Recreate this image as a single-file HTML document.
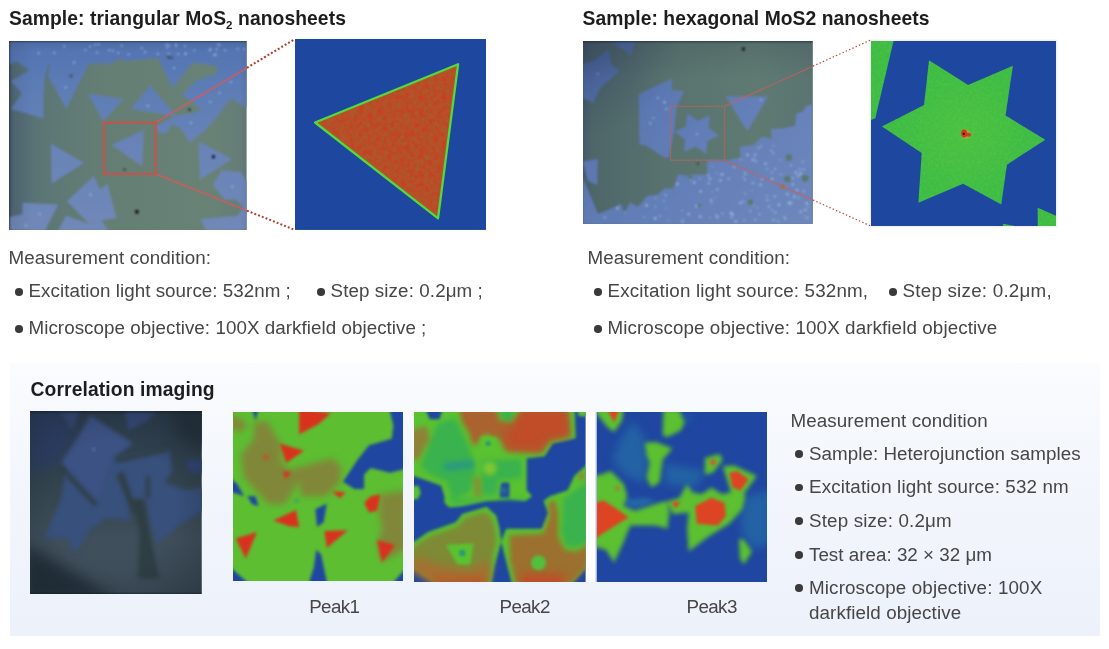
<!DOCTYPE html>
<html lang="en">
<head>
<meta charset="utf-8">
<title>MoS2 nanosheets Raman imaging</title>
<style>
html,body{margin:0;padding:0;}
body{width:1109px;height:649px;position:relative;overflow:hidden;background:#fff;
  font-family:"Liberation Sans",sans-serif;color:#3a3a3a;}
.abs{position:absolute;}
.t{position:absolute;white-space:nowrap;line-height:1;}
h2.t{margin:0;font-weight:bold;color:#1d1d1d;font-size:19.3px;}
h2.t sub{font-size:11.5px;vertical-align:baseline;position:relative;top:4.5px;}
.p{font-size:18.8px;color:#464646;}
.bul{position:absolute;width:7.5px;height:7.5px;border-radius:50%;background:#3a3a3a;}
.sc{font-style:normal;margin-left:5px;}
.pk{letter-spacing:-0.6px;}
svg{position:absolute;display:block;overflow:hidden;}
#panel{position:absolute;left:9.5px;top:362.5px;width:1090.5px;height:273.8px;
  background:linear-gradient(180deg,#fafcfe 0%,#f3f6fc 40%,#edf1fa 100%);}
</style>
</head>
<body>

<!-- ===== headings ===== -->
<h2 class="t" id="h1" style="left:9px;top:8.9px;letter-spacing:0.08px;">Sample: triangular MoS<sub>2</sub> nanosheets</h2>
<h2 class="t" id="h2" style="left:582.5px;top:8.9px;letter-spacing:0.06px;">Sample: hexagonal MoS2 nanosheets</h2>

<!--IMG1-->
<svg id="img1" style="left:9.2px;top:41px;" width="237.6" height="189.4" viewBox="9.2 41 237.6 189.4" preserveAspectRatio="none">
<defs><filter id="b1" x="-5%" y="-5%" width="110%" height="110%"><feGaussianBlur stdDeviation="1.1"/></filter><filter id="b1s" x="-50%" y="-50%" width="200%" height="200%"><feGaussianBlur stdDeviation="0.9"/></filter><linearGradient id="g1" x1="0" x2="1" y1="0" y2="0"><stop offset="0" stop-color="#485c6c"/><stop offset="0.02" stop-color="#526a74"/><stop offset="0.14" stop-color="#5c7676"/><stop offset="0.4" stop-color="#657e74"/><stop offset="0.85" stop-color="#698276"/><stop offset="1" stop-color="#647c78"/></linearGradient><linearGradient id="f1" gradientUnits="userSpaceOnUse" x1="0" x2="0" y1="41" y2="230"><stop offset="0" stop-color="#5273b2"/><stop offset="0.3" stop-color="#5f7eb6"/><stop offset="0.6" stop-color="#6a84b8"/><stop offset="1" stop-color="#7088b8"/></linearGradient><linearGradient id="e1" x1="0" x2="1" y1="0" y2="0"><stop offset="0" stop-color="#1c2638" stop-opacity="0.5"/><stop offset="0.012" stop-color="#243048" stop-opacity="0.12"/><stop offset="0.1" stop-color="#243048" stop-opacity="0"/><stop offset="0.97" stop-color="#243048" stop-opacity="0"/><stop offset="1" stop-color="#243048" stop-opacity="0.08"/></linearGradient><linearGradient id="t1" x1="0" x2="0" y1="0" y2="1"><stop offset="0" stop-color="#182030" stop-opacity="0.55"/><stop offset="0.012" stop-color="#182030" stop-opacity="0.08"/><stop offset="0.06" stop-color="#182030" stop-opacity="0"/></linearGradient></defs>
<rect x="9.2" y="41" width="237.6" height="189.4" fill="url(#g1)"/>
<g filter="url(#b1)" fill="url(#f1)"><polygon points="9,41 247,41 247,107.4 231.3,98.2 208.2,127.4 197,137 189.7,143 181,128 172,124 167,133 160,133 155,127 176,116 193,113 202,109 182,95 196,81 217.4,73.5 217.4,65.8 193,62.7 186.6,70.4 172.8,88 158.1,58.1 125,61.2 119,58.1 113,63.5 89,63.5 66.6,109 46,72 43.5,95 43.5,118.2 11.2,109 22,93.5 11.2,81.2 30,70 17,62 9,64" fill="url(#f1)" /><polygon points="88.2,93.5 123.6,99 103.6,121.3" fill="url(#f1)" /><polygon points="150.4,85.1 131.2,109.3 176.3,115.9" fill="url(#f1)" /><polygon points="111.7,144.9 144,130.3 142.4,165.9" fill="url(#f1)" /><polygon points="51.1,143.7 84.2,163.1 51.9,183.4" fill="url(#f1)" /><polygon points="198.6,141.3 231.7,159.1 200.2,180.1" fill="url(#f1)" /><polygon points="213,185 222,170.4 241.4,172 247,181.7 247,210.9 236.6,199.5 225,199.5" fill="url(#f1)" /><polygon points="201,219 238,215.7 247,201 247,230.5 206,230.5" fill="url(#f1)" /><polygon points="67.3,201.2 93.9,176.1 100.4,189.8 107.7,183.4 116.6,218.1 102,220.6 89,223.8" fill="url(#f1)" /><polygon points="22.8,202.8 58.4,204.4 48.7,223.8 45.4,230.5 9,230.5 9,217.3 22.8,214.1" fill="url(#f1)" /><polygon points="58.4,230.5 66.4,215.7 89,223.8 102,220.6 108.5,230.5" fill="url(#f1)" /><polygon points="51,63 48,66 44,82 47,80" fill="#5a7278" /></g>
<g filter="url(#b1s)" opacity="0.6"><circle cx="74.3" cy="62.7" r="1.1" fill="#b8d4ff"/><circle cx="65.9" cy="87.4" r="1.1" fill="#b8d4ff"/><circle cx="174.3" cy="68.1" r="1.1" fill="#b8d4ff"/><circle cx="148.1" cy="105.9" r="1.1" fill="#b8d4ff"/><circle cx="191.3" cy="122.8" r="1.1" fill="#b8d4ff"/><circle cx="210.5" cy="102.0" r="1.1" fill="#b8d4ff"/><circle cx="219.8" cy="92.8" r="1.1" fill="#b8d4ff"/><circle cx="231.3" cy="82.0" r="1.1" fill="#b8d4ff"/><circle cx="90.7" cy="194.7" r="1.1" fill="#b8d4ff"/><circle cx="39.8" cy="214.1" r="1.1" fill="#b8d4ff"/><circle cx="26.0" cy="225.4" r="1.1" fill="#b8d4ff"/><circle cx="232.5" cy="186.6" r="1.1" fill="#b8d4ff"/><circle cx="85.7" cy="50.0" r="1.1" fill="#b8d4ff"/><circle cx="113.3" cy="50.6" r="1.1" fill="#b8d4ff"/><circle cx="166.8" cy="44.7" r="1.1" fill="#b8d4ff"/><circle cx="38.8" cy="53.2" r="1.1" fill="#b8d4ff"/><circle cx="90.2" cy="46.6" r="1.1" fill="#b8d4ff"/><circle cx="244.1" cy="49.2" r="1.1" fill="#b8d4ff"/><circle cx="210.8" cy="49.2" r="1.1" fill="#b8d4ff"/><circle cx="169.6" cy="45.7" r="1.1" fill="#b8d4ff"/><circle cx="168.7" cy="53.5" r="1.1" fill="#b8d4ff"/><circle cx="145.3" cy="52.2" r="1.1" fill="#b8d4ff"/><circle cx="176.3" cy="44.7" r="1.1" fill="#b8d4ff"/><circle cx="194.5" cy="50.5" r="1.1" fill="#b8d4ff"/><circle cx="99.0" cy="44.3" r="1.1" fill="#b8d4ff"/><circle cx="216.9" cy="49.2" r="1.1" fill="#b8d4ff"/><circle cx="186.2" cy="53.7" r="1.1" fill="#b8d4ff"/><circle cx="185.3" cy="54.1" r="1.1" fill="#b8d4ff"/><circle cx="118.5" cy="52.8" r="1.1" fill="#b8d4ff"/><circle cx="128.9" cy="54.3" r="1.1" fill="#b8d4ff"/><circle cx="219.7" cy="45.1" r="1.1" fill="#b8d4ff"/><circle cx="64.4" cy="46.4" r="1.1" fill="#b8d4ff"/><circle cx="237.8" cy="48.8" r="1.1" fill="#b8d4ff"/><circle cx="167.0" cy="47.3" r="1.1" fill="#b8d4ff"/><circle cx="142.0" cy="48.2" r="1.1" fill="#b8d4ff"/><circle cx="109.3" cy="50.4" r="1.1" fill="#b8d4ff"/><circle cx="158.1" cy="53.9" r="1.1" fill="#b8d4ff"/><circle cx="178.5" cy="54.2" r="1.1" fill="#b8d4ff"/><circle cx="215.0" cy="54.9" r="1.1" fill="#b8d4ff"/><circle cx="176.3" cy="45.8" r="1.1" fill="#b8d4ff"/><circle cx="215.9" cy="54.6" r="1.1" fill="#b8d4ff"/><circle cx="225.1" cy="50.3" r="1.1" fill="#b8d4ff"/><circle cx="185.2" cy="46.3" r="1.1" fill="#b8d4ff"/><circle cx="209.8" cy="50.3" r="1.1" fill="#b8d4ff"/><circle cx="95.6" cy="44.7" r="1.1" fill="#b8d4ff"/><circle cx="214.5" cy="54.9" r="1.1" fill="#b8d4ff"/><circle cx="54.5" cy="52.8" r="1.1" fill="#b8d4ff"/><circle cx="121.8" cy="45.7" r="1.1" fill="#b8d4ff"/><circle cx="97.4" cy="52.5" r="1.1" fill="#b8d4ff"/><circle cx="218.4" cy="44.5" r="1.1" fill="#b8d4ff"/></g>
<g filter="url(#b1s)"><circle cx="213.6" cy="156.7" r="1.7" fill="#141830"/><circle cx="137.1" cy="211.7" r="2" fill="#10141c"/><circle cx="189.7" cy="109.7" r="1.4" fill="#283040"/><circle cx="71.3" cy="75.8" r="1.6" fill="#405060"/><circle cx="124.7" cy="169.6" r="1" fill="#202830"/><ellipse cx="170" cy="57.5" rx="3.5" ry="1" fill="#384858" transform="rotate(12 170 57.5)"/></g>
<rect x="9.2" y="41" width="237.6" height="189.4" fill="url(#e1)"/>
<rect x="9.2" y="41" width="237.6" height="189.4" fill="url(#t1)"/>
</svg>
<!--/IMG1-->
<!--HEAT1-->
<svg id="heat1" style="left:294.563px;top:38.7379px;" width="191.586" height="190.939" viewBox="45 27 592 590" preserveAspectRatio="none">
<defs><filter id="bh1" x="-10%" y="-10%" width="120%" height="120%" color-interpolation-filters="sRGB"><feGaussianBlur stdDeviation="2.2"/></filter><filter id="nz1" x="0" y="0" width="100%" height="100%" color-interpolation-filters="sRGB"><feTurbulence type="fractalNoise" baseFrequency="0.07" numOctaves="2" seed="4"/><feColorMatrix type="matrix" values="0 0 0 0 0.90  0 0 0 0 0.14  0 0 0 0 0.08  2.6 0 0 0 -1.05"/><feComposite in2="SourceGraphic" operator="in"/></filter><filter id="nz1g" x="0" y="0" width="100%" height="100%" color-interpolation-filters="sRGB"><feTurbulence type="fractalNoise" baseFrequency="0.05" numOctaves="2" seed="21"/><feColorMatrix type="matrix" values="0 0 0 0 0.50  0 0 0 0 0.50  0 0 0 0 0.18  2.4 0 0 0 -1.15"/><feComposite in2="SourceGraphic" operator="in"/></filter></defs>
<rect x="45" y="27" width="592" height="590" fill="#1e479f"/>
<g filter="url(#bh1)"><polygon points="107,285 549,105 487,581" fill="#b4522a" stroke="#50dc3a" stroke-width="7" stroke-linejoin="round"/></g>
<polygon points="122,285 541,115 482,566" fill="#fff" filter="url(#nz1g)" opacity="0.32"/>
<polygon points="122,285 541,115 482,566" fill="#fff" filter="url(#nz1)" opacity="0.45"/>
</svg>
<!--/HEAT1-->
<!--IMG2-->
<svg id="img2" style="left:583.1px;top:41.2px;" width="229.8" height="183.3" viewBox="583.1 41.2 229.8 183.3" preserveAspectRatio="none">
<defs><filter id="b2" x="-5%" y="-5%" width="110%" height="110%"><feGaussianBlur stdDeviation="1.1"/></filter><filter id="b2s" x="-50%" y="-50%" width="200%" height="200%"><feGaussianBlur stdDeviation="0.8"/></filter><linearGradient id="g2" x1="0" x2="1" y1="0" y2="0"><stop offset="0" stop-color="#46586a"/><stop offset="0.04" stop-color="#4e6669"/><stop offset="0.35" stop-color="#58726f"/><stop offset="0.75" stop-color="#5f7a72"/><stop offset="1" stop-color="#5a7472"/></linearGradient><linearGradient id="f2" gradientUnits="userSpaceOnUse" x1="583" x2="813" y1="41" y2="225"><stop offset="0" stop-color="#4c68a6"/><stop offset="0.25" stop-color="#5a76b0"/><stop offset="0.55" stop-color="#647fb8"/><stop offset="1" stop-color="#6e88bc"/></linearGradient><radialGradient id="c2" gradientUnits="userSpaceOnUse" cx="583" cy="41" r="95"><stop offset="0" stop-color="#283858" stop-opacity="0.42"/><stop offset="1" stop-color="#283858" stop-opacity="0"/></radialGradient><linearGradient id="t2" x1="0" x2="0" y1="0" y2="1"><stop offset="0" stop-color="#182030" stop-opacity="0.6"/><stop offset="0.015" stop-color="#182030" stop-opacity="0.12"/><stop offset="0.2" stop-color="#182030" stop-opacity="0"/></linearGradient></defs>
<rect x="583.1" y="41.2" width="229.8" height="183.3" fill="url(#g2)"/>
<g filter="url(#b2)"><polygon points="583,64.3 593.4,61.2 608.8,49.6 611.1,64.3 619.6,71.2 601.1,87.4 593.4,102.8 583,98.2" fill="url(#f2)" /><polygon points="610.4,41 635,41 631.2,55" fill="url(#f2)" /><polygon points="638.9,94.3 672,78.9 672,90.5 684.3,91.2 676.6,107.4 674.7,129 669,157.7 664.3,157.7 645.8,145.4 639.6,144.6" fill="url(#f2)" /><polygon points="719.1,135.8 707.5,141.3 706.3,154.1 695.8,146.8 684.1,152.2 685.2,139.4 674.7,132 686.3,126.5 687.5,113.7 698,121 709.7,115.6 708.6,128.4" fill="url(#f2)" /><polygon points="725.8,96.6 768.2,96.6 747.4,131.3" fill="url(#f2)" /><polygon points="583,161.6 598,159.3 597.3,185.5 588,181" fill="url(#f2)" /><polygon points="583,178 598,214 609,210 621,204 624,213 630.4,202.4 638,207 647.3,196.3 658,194.7 664.3,188.6 673.5,188.6 678.2,174.7 689,176.2 695,174.7 707.3,174.7 707.3,160.8 725.8,160.8 741.2,157.7 739.7,147 753.5,145.4 762,137 772,139 771,129 781.3,129 795.2,125.9 796.7,113.6 802.9,112 805.9,106.6 813,104.3 813,225 583,225" fill="url(#f2)" /></g>
<g filter="url(#b2s)" opacity="0.55"><circle cx="712.5" cy="166.8" r="0.7" fill="#c0d8ff"/><circle cx="773.6" cy="145.8" r="0.9" fill="#c0d8ff"/><circle cx="731.8" cy="217.5" r="1.1" fill="#c0d8ff"/><circle cx="683.3" cy="219.9" r="0.7" fill="#c0d8ff"/><circle cx="780.3" cy="160.2" r="0.8" fill="#c0d8ff"/><circle cx="771.4" cy="150.7" r="1.1" fill="#c0d8ff"/><circle cx="734.2" cy="167.4" r="1.1" fill="#c0d8ff"/><circle cx="723.0" cy="174.4" r="0.9" fill="#c0d8ff"/><circle cx="766.8" cy="195.8" r="0.9" fill="#c0d8ff"/><circle cx="720.6" cy="180.7" r="1.3" fill="#c0d8ff"/><circle cx="753.2" cy="160.1" r="1.4" fill="#c0d8ff"/><circle cx="759.0" cy="148.2" r="1.0" fill="#c0d8ff"/><circle cx="760.6" cy="184.9" r="1.3" fill="#c0d8ff"/><circle cx="665.9" cy="195.5" r="1.1" fill="#c0d8ff"/><circle cx="721.8" cy="174.7" r="1.3" fill="#c0d8ff"/><circle cx="798.4" cy="176.2" r="1.2" fill="#c0d8ff"/><circle cx="735.9" cy="221.4" r="1.3" fill="#c0d8ff"/><circle cx="761.3" cy="146.3" r="0.9" fill="#c0d8ff"/><circle cx="682.1" cy="210.8" r="0.8" fill="#c0d8ff"/><circle cx="694.3" cy="182.8" r="1.3" fill="#c0d8ff"/><circle cx="772.0" cy="210.2" r="0.9" fill="#c0d8ff"/><circle cx="785.7" cy="218.3" r="0.8" fill="#c0d8ff"/><circle cx="677.5" cy="184.3" r="1.4" fill="#c0d8ff"/><circle cx="745.0" cy="179.8" r="1.1" fill="#c0d8ff"/><circle cx="788.9" cy="202.9" r="1.3" fill="#c0d8ff"/><circle cx="767.6" cy="169.1" r="1.0" fill="#c0d8ff"/><circle cx="778.3" cy="221.4" r="1.0" fill="#c0d8ff"/><circle cx="655.6" cy="207.1" r="0.8" fill="#c0d8ff"/><circle cx="604.9" cy="217.7" r="1.1" fill="#c0d8ff"/><circle cx="805.5" cy="210.1" r="1.2" fill="#c0d8ff"/><circle cx="711.8" cy="202.8" r="0.9" fill="#c0d8ff"/><circle cx="646.8" cy="205.6" r="1.4" fill="#c0d8ff"/><circle cx="779.1" cy="205.1" r="1.3" fill="#c0d8ff"/><circle cx="755.4" cy="154.7" r="1.1" fill="#c0d8ff"/><circle cx="800.9" cy="173.9" r="1.4" fill="#c0d8ff"/><circle cx="807.5" cy="218.1" r="1.0" fill="#c0d8ff"/><circle cx="731.1" cy="213.3" r="1.3" fill="#c0d8ff"/><circle cx="700.7" cy="191.8" r="1.3" fill="#c0d8ff"/><circle cx="791.1" cy="203.1" r="1.2" fill="#c0d8ff"/><circle cx="765.7" cy="163.9" r="1.3" fill="#c0d8ff"/><circle cx="804.0" cy="169.4" r="1.0" fill="#c0d8ff"/><circle cx="798.8" cy="198.1" r="0.8" fill="#c0d8ff"/><circle cx="790.0" cy="205.2" r="0.8" fill="#c0d8ff"/><circle cx="773.6" cy="220.3" r="1.2" fill="#c0d8ff"/><circle cx="803.9" cy="191.5" r="1.1" fill="#c0d8ff"/><circle cx="796.1" cy="172.7" r="1.3" fill="#c0d8ff"/><circle cx="773.5" cy="153.4" r="0.9" fill="#c0d8ff"/><circle cx="791.1" cy="165.8" r="1.0" fill="#c0d8ff"/><circle cx="722.5" cy="213.7" r="1.0" fill="#c0d8ff"/><circle cx="792.7" cy="178.6" r="1.1" fill="#c0d8ff"/><circle cx="752.3" cy="183.4" r="0.9" fill="#c0d8ff"/><circle cx="708.9" cy="183.3" r="1.2" fill="#c0d8ff"/><circle cx="762.2" cy="179.2" r="1.1" fill="#c0d8ff"/><circle cx="759.6" cy="214.4" r="1.0" fill="#c0d8ff"/><circle cx="728.6" cy="179.0" r="1.1" fill="#c0d8ff"/><circle cx="745.5" cy="174.4" r="1.1" fill="#c0d8ff"/><circle cx="700.4" cy="216.9" r="1.2" fill="#c0d8ff"/><circle cx="784.1" cy="217.0" r="0.9" fill="#c0d8ff"/><circle cx="717.5" cy="217.1" r="1.3" fill="#c0d8ff"/><circle cx="740.6" cy="203.2" r="1.3" fill="#c0d8ff"/><circle cx="785.4" cy="219.2" r="0.9" fill="#c0d8ff"/><circle cx="800.0" cy="169.6" r="1.0" fill="#c0d8ff"/><circle cx="807.9" cy="207.4" r="0.8" fill="#c0d8ff"/><circle cx="690.6" cy="179.9" r="0.9" fill="#c0d8ff"/><circle cx="716.4" cy="173.3" r="0.7" fill="#c0d8ff"/><circle cx="806.9" cy="203.6" r="1.4" fill="#c0d8ff"/><circle cx="688.7" cy="214.3" r="1.3" fill="#c0d8ff"/><circle cx="793.0" cy="184.6" r="1.2" fill="#c0d8ff"/><circle cx="744.5" cy="172.0" r="0.8" fill="#c0d8ff"/><circle cx="797.1" cy="190.2" r="1.3" fill="#c0d8ff"/><circle cx="617.6" cy="209.5" r="0.7" fill="#c0d8ff"/><circle cx="781.2" cy="174.5" r="0.9" fill="#c0d8ff"/><circle cx="716.1" cy="215.6" r="0.9" fill="#c0d8ff"/><circle cx="664.1" cy="201.1" r="0.9" fill="#c0d8ff"/><circle cx="753.9" cy="182.9" r="0.8" fill="#c0d8ff"/><circle cx="699.7" cy="216.3" r="0.8" fill="#c0d8ff"/><circle cx="772.0" cy="172.6" r="1.0" fill="#c0d8ff"/><circle cx="775.3" cy="169.2" r="1.1" fill="#c0d8ff"/><circle cx="744.4" cy="220.5" r="0.9" fill="#c0d8ff"/><circle cx="774.8" cy="196.5" r="1.1" fill="#c0d8ff"/><circle cx="617.7" cy="208.2" r="1.3" fill="#c0d8ff"/><circle cx="740.8" cy="159.5" r="0.9" fill="#c0d8ff"/><circle cx="655.3" cy="218.7" r="1.4" fill="#c0d8ff"/><circle cx="802.8" cy="161.9" r="0.9" fill="#c0d8ff"/><circle cx="699.7" cy="178.7" r="0.8" fill="#c0d8ff"/><circle cx="711.1" cy="200.3" r="1.2" fill="#c0d8ff"/><circle cx="750.4" cy="211.5" r="1.0" fill="#c0d8ff"/><circle cx="668.5" cy="220.7" r="0.8" fill="#c0d8ff"/><circle cx="752.1" cy="191.0" r="0.7" fill="#c0d8ff"/><circle cx="775.4" cy="212.6" r="1.1" fill="#c0d8ff"/><circle cx="754.1" cy="205.7" r="0.8" fill="#c0d8ff"/><circle cx="710.0" cy="178.9" r="1.3" fill="#c0d8ff"/><circle cx="769.0" cy="206.9" r="1.1" fill="#c0d8ff"/><circle cx="787.5" cy="194.4" r="1.2" fill="#c0d8ff"/><circle cx="717.3" cy="189.6" r="1.1" fill="#c0d8ff"/><circle cx="742.9" cy="177.6" r="0.7" fill="#c0d8ff"/><circle cx="767.5" cy="200.1" r="1.1" fill="#c0d8ff"/><circle cx="712.4" cy="192.4" r="0.7" fill="#c0d8ff"/><circle cx="754.7" cy="156.9" r="0.8" fill="#c0d8ff"/><circle cx="655.8" cy="198.5" r="0.8" fill="#c0d8ff"/><circle cx="755.4" cy="219.9" r="1.0" fill="#c0d8ff"/><circle cx="743.6" cy="201.7" r="1.1" fill="#c0d8ff"/><circle cx="756.1" cy="161.5" r="1.1" fill="#c0d8ff"/><circle cx="745.4" cy="193.8" r="0.9" fill="#c0d8ff"/><circle cx="708.5" cy="175.4" r="1.0" fill="#c0d8ff"/><circle cx="624.9" cy="212.7" r="0.8" fill="#c0d8ff"/><circle cx="805.4" cy="216.5" r="0.7" fill="#c0d8ff"/><circle cx="696.4" cy="206.3" r="1.4" fill="#c0d8ff"/><circle cx="644.1" cy="217.3" r="0.8" fill="#c0d8ff"/><circle cx="710.1" cy="217.9" r="0.8" fill="#c0d8ff"/><circle cx="772.2" cy="179.3" r="1.3" fill="#c0d8ff"/><circle cx="747.7" cy="155.1" r="1.3" fill="#c0d8ff"/><circle cx="666.4" cy="208.1" r="0.7" fill="#c0d8ff"/><circle cx="757.7" cy="208.0" r="0.8" fill="#c0d8ff"/><circle cx="794.5" cy="197.0" r="1.3" fill="#c0d8ff"/><circle cx="682.5" cy="221.9" r="1.1" fill="#c0d8ff"/><circle cx="660.0" cy="216.4" r="0.9" fill="#c0d8ff"/><circle cx="800.8" cy="211.9" r="1.3" fill="#c0d8ff"/><circle cx="732.5" cy="214.5" r="1.4" fill="#c0d8ff"/><circle cx="715.3" cy="197.6" r="0.7" fill="#c0d8ff"/><circle cx="658" cy="98" r="1.1" fill="#c0d8ff"/><circle cx="664.3" cy="102.8" r="1.1" fill="#c0d8ff"/><circle cx="666.6" cy="109" r="1.1" fill="#c0d8ff"/><circle cx="653.5" cy="118.2" r="1.1" fill="#c0d8ff"/><circle cx="650.4" cy="123.6" r="1.1" fill="#c0d8ff"/><circle cx="664.8" cy="102.4" r="1.1" fill="#c0d8ff"/><circle cx="697" cy="134.5" r="1.1" fill="#c0d8ff"/><circle cx="598" cy="74" r="1.1" fill="#c0d8ff"/><circle cx="761" cy="100" r="1.1" fill="#c0d8ff"/></g>
<g filter="url(#b2s)"><circle cx="743.5" cy="49.2" r="1.7" fill="#10141c"/><circle cx="698" cy="164" r="1" fill="#2a3438"/><circle cx="789" cy="157.7" r="3.2" fill="#58786c"/><circle cx="787.4" cy="179.3" r="3.2" fill="#58786c"/><circle cx="805.2" cy="178.5" r="3.4" fill="#58786c"/><circle cx="782.8" cy="187" r="2.2" fill="#9a7040"/><circle cx="750.5" cy="202.4" r="2.6" fill="#58786c"/><circle cx="699.6" cy="205.5" r="2" fill="#5c7c78"/><circle cx="690.5" cy="177.5" r="2" fill="#58786c"/></g>
<rect x="583.1" y="41.2" width="229.8" height="183.3" fill="url(#c2)"/>
<rect x="583.1" y="41.2" width="229.8" height="183.3" fill="url(#t2)"/>
</svg>
<!--/IMG2-->
<!--HEAT2-->
<svg id="heat2" style="left:870.55px;top:40.5784px;box-shadow:0 0 0 1.5px #f1f1f1;" width="185.615" height="185.615" viewBox="62 47 560 560" preserveAspectRatio="none">
<defs><filter id="bh2" x="-10%" y="-10%" width="120%" height="120%" color-interpolation-filters="sRGB"><feGaussianBlur stdDeviation="1.8"/></filter><radialGradient id="rg2" gradientUnits="userSpaceOnUse" cx="345" cy="327" r="190"><stop offset="0" stop-color="#7ad038" stop-opacity="0.22"/><stop offset="1" stop-color="#8ad838" stop-opacity="0"/></radialGradient><filter id="nz2" x="0" y="0" width="100%" height="100%" color-interpolation-filters="sRGB"><feTurbulence type="fractalNoise" baseFrequency="0.12" numOctaves="2" seed="9"/><feColorMatrix type="matrix" values="0 0 0 0 0.40  0 0 0 0 0.80  0 0 0 0 0.24  1.6 0 0 0 -0.62"/><feComposite in2="SourceGraphic" operator="in"/></filter></defs>
<rect x="62" y="47" width="560" height="560" fill="#1e479f"/>
<g filter="url(#bh2)"><polygon points="237,105 355,180 490,122 468,272 588,345 472,420 455,540 340,478 205,535 215,385 95,305 222,240" fill="#3dbc46" /><polygon points="62,47 130,47 75,280 62,285" fill="#3dbc46" /><polygon points="565,550 622,575 622,607 565,607" fill="#3dbc46" /><polygon points="460,598 505,607 460,607" fill="#3dbc46" /></g>
<g filter="url(#nz2)" opacity="0.5"><polygon points="237,105 355,180 490,122 468,272 588,345 472,420 455,540 340,478 205,535 215,385 95,305 222,240" fill="#fff" /><polygon points="62,47 130,47 75,280 62,285" fill="#fff" /><polygon points="565,550 622,575 622,607 565,607" fill="#fff" /><polygon points="460,598 505,607 460,607" fill="#fff" /></g>
<polygon points="237,105 355,180 490,122 468,272 588,345 472,420 455,540 340,478 205,535 215,385 95,305 222,240" fill="url(#rg2)" />
<g filter="url(#bh2)"><ellipse cx="348" cy="328" rx="15" ry="15" fill="#86b83a"/><ellipse cx="343" cy="326" rx="9" ry="12" fill="#d83220"/><ellipse cx="356" cy="330" rx="8" ry="6" fill="#d83a22"/><circle cx="342" cy="327" r="3.5" fill="#301010"/></g>
</svg>
<!--/HEAT2-->
<!--LINES-->
<svg id="lines" style="left:0px;top:0px;pointer-events:none;" width="1109" height="360" viewBox="0 0 1109 360" preserveAspectRatio="none">
<line x1="156" y1="122.3" x2="247" y2="67.7657" stroke="#d8585a" stroke-width="1.5" opacity="0.9"/>
<line x1="247" y1="67.7657" x2="294.5" y2="39.3" stroke="#b23c28" stroke-width="2.1" stroke-dasharray="1.9 2.1"/>
<line x1="156" y1="174" x2="247" y2="210.663" stroke="#d8585a" stroke-width="1.5" opacity="0.9"/>
<line x1="247" y1="210.663" x2="294.5" y2="229.8" stroke="#b23c28" stroke-width="2.1" stroke-dasharray="1.9 2.1"/>
<rect x="104" y="122.6" width="51.6" height="51.2" fill="none" stroke="#e2463f" stroke-width="2.3" stroke-dasharray="2.3 0.9"/>
<line x1="724.6" y1="106.2" x2="813" y2="66.1561" stroke="#cf5c58" stroke-width="1.1" opacity="0.85"/>
<line x1="813" y1="66.1561" x2="870.3" y2="40.2" stroke="#b8442e" stroke-width="1.2" stroke-dasharray="1.4 2.2"/>
<line x1="724.6" y1="160.3" x2="813" y2="200.041" stroke="#cf5c58" stroke-width="1.1" opacity="0.85"/>
<line x1="813" y1="200.041" x2="870.3" y2="225.8" stroke="#b8442e" stroke-width="1.2" stroke-dasharray="1.4 2.2"/>
<rect x="670.5" y="106.4" width="54" height="53.8" fill="none" stroke="#c8605a" stroke-width="1.4" stroke-dasharray="2 0.8" opacity="0.75"/>
</svg>
<!--/LINES-->

<!-- ===== left conditions ===== -->
<div class="t p" id="l1" style="left:8.5px;top:248.5px;letter-spacing:0.1px;">Measurement condition:</div>
<span class="bul" style="left:15px;top:288.2px;"></span>
<div class="t p" id="l2" style="left:28.5px;top:281.8px;letter-spacing:0.05px;">Excitation light source: 532nm<i class="sc">;</i></div>
<span class="bul" style="left:317px;top:288.2px;"></span>
<div class="t p" id="l3" style="left:330.5px;top:281.8px;letter-spacing:0.1px;">Step size: 0.2μm<i class="sc">;</i></div>
<span class="bul" style="left:15px;top:325.2px;"></span>
<div class="t p" id="l4" style="left:28.5px;top:319.4px;letter-spacing:0.05px;">Microscope objective: 100X darkfield objective<i class="sc">;</i></div>

<!-- ===== right conditions ===== -->
<div class="t p" id="r1" style="left:587.5px;top:248.5px;letter-spacing:0.1px;">Measurement condition:</div>
<span class="bul" style="left:594px;top:288.2px;"></span>
<div class="t p" id="r2" style="left:607.5px;top:281.8px;letter-spacing:0.16px;">Excitation light source: 532nm,</div>
<span class="bul" style="left:889px;top:288.2px;"></span>
<div class="t p" id="r3" style="left:902.5px;top:281.8px;letter-spacing:0.23px;">Step size: 0.2μm,</div>
<span class="bul" style="left:594px;top:325.2px;"></span>
<div class="t p" id="r4" style="left:607.5px;top:319.4px;letter-spacing:0.1px;">Microscope objective: 100X darkfield objective</div>

<!-- ===== bottom panel ===== -->
<div id="panel"></div>
<h2 class="t" id="h3" style="left:30.5px;top:379.7px;letter-spacing:0.11px;">Correlation imaging</h2>
<!--DARK-->
<svg id="dark" style="left:30.2px;top:411.3px;" width="171.7" height="183.2" viewBox="30.2 411.3 171.7 183.2" preserveAspectRatio="none">
<defs><filter id="db" x="-20%" y="-20%" width="140%" height="140%" color-interpolation-filters="sRGB"><feGaussianBlur stdDeviation="2.2"/></filter><filter id="db2" x="-30%" y="-30%" width="160%" height="160%" color-interpolation-filters="sRGB"><feGaussianBlur stdDeviation="7"/></filter><linearGradient id="dg" x1="0" x2="0" y1="0" y2="1"><stop offset="0" stop-color="#2b3b4b"/><stop offset="0.45" stop-color="#34454f"/><stop offset="0.7" stop-color="#3f4f5b"/><stop offset="1" stop-color="#3c4c58"/></linearGradient><radialGradient id="dvv" cx="48%" cy="52%" r="72%"><stop offset="0.5" stop-color="#18222c" stop-opacity="0"/><stop offset="1" stop-color="#18222c" stop-opacity="0.42"/></radialGradient><linearGradient id="dt" x1="0" x2="0" y1="0" y2="1"><stop offset="0" stop-color="#101820" stop-opacity="0.5"/><stop offset="0.02" stop-color="#101820" stop-opacity="0"/><stop offset="0.985" stop-color="#101820" stop-opacity="0"/><stop offset="1" stop-color="#101820" stop-opacity="0.5"/></linearGradient></defs>
<rect x="30.2" y="411.3" width="171.7" height="183.2" fill="url(#dg)"/>
<g filter="url(#db2)"><polygon points="25,405 62,405 75,430 60,465 25,470" fill="#2c3e64" /><polygon points="25,545 120,600 25,600" fill="#222e38" /><polygon points="170,405 210,405 210,450 180,440" fill="#24323c" /></g>
<g filter="url(#db)"><polygon points="90.6,415.8 133.3,443.7 113.6,458.5 97.2,502.8 61.1,463.4 79.2,435.5" fill="#3c5284" /><polygon points="57.8,408 80.8,408 72.6,430.6" fill="#354876" /><polygon points="125.1,408 159.6,408 146.4,422.4 128.4,430.6" fill="#354876" /><polygon points="113.6,458.5 169.4,448.7 172.7,471.6 164.5,483.1 186,490 205,488 205,509.8 180.9,524.6 156.3,544.3 149.7,524.6 146,500 130,500 130,521.3 107.1,518.1 90.6,529.5 75.9,552.5 66,537.7 44.7,539.4 61.1,500 66,470 97.2,502.8" fill="#38507c" /><polygon points="185.8,460.2 205,458.5 205,475 189.1,471.6" fill="#324474" /></g>
<g filter="url(#db)"><polygon points="131.7,500 143.2,500 149.7,532.8 159.6,578.8 138.2,578.8 139.9,532.8" fill="#2e3e44" /><polygon points="117,475 123.5,471.6 133,500 142,510 132,512" fill="#2e3e44" /><polygon points="146.4,476.6 149.7,476.6 149.7,497 146,500" fill="#2e3e44" /><polygon points="113.6,458.5 169.4,447 168,452 118,463" fill="#2e3e44" /><polygon points="61.1,463.4 66,470 97.2,502.8 95,507 60,470" fill="#2e3e44" /></g>
<circle cx="94" cy="449.5" r="1.3" fill="#7aa0d8" filter="url(#db)"/>
<rect x="30.2" y="411.3" width="171.7" height="183.2" fill="url(#dvv)"/>
<rect x="30.2" y="411.3" width="171.7" height="183.2" fill="url(#dt)"/>
</svg>
<!--/DARK-->
<!--P1-->
<svg id="p1" style="left:233.2px;top:411.8px;" width="170.1" height="169.7" viewBox="233.2 411.8 170.1 169.7" preserveAspectRatio="none">
<defs><clipPath id="c_p1"><rect x="233.2" y="411.8" width="170.1" height="169.7"/></clipPath><filter id="p1b" x="-40%" y="-40%" width="180%" height="180%" color-interpolation-filters="sRGB"><feGaussianBlur stdDeviation="3"/></filter><filter id="p1c" x="-40%" y="-40%" width="180%" height="180%" color-interpolation-filters="sRGB"><feGaussianBlur stdDeviation="1.4"/></filter></defs><g clip-path="url(#c_p1)"><rect x="220" y="400" width="200" height="200" fill="#5dbe32"/><g filter="url(#p1b)" opacity="0.88"><polygon points="254,422.2 267,420.6 281.6,445 281.6,462.8 289.7,469.3 331.9,458 341.6,466 340,482.3 325.4,496 301,496 299.4,480.7 284.8,504.1 268.6,504.1 244.2,477.4 241,454.7 254,438.5" fill="#86803a" /><polygon points="230,414 244.2,420.6 247.5,427.1 239.4,432 230,427" fill="#86803a" /><polygon points="380.6,494 408,490 408,548 390.3,557.7 382.2,561 377.3,544.7 382.2,528.5 379,512.2" fill="#86803a" /></g><g filter="url(#p1c)"><polygon points="388.7,405 410,405 410,467.7 390.3,472.5 370.8,467.7 364.3,474.2 364.3,488.8 354.6,488.8 343.2,481.5 357.8,459.6 369.2,445 391.9,438.5 393.6,425.5" fill="#1f46a0" /><polygon points="252.3,408 258.8,408 255.6,420.6" fill="#1f46a0" /><polygon points="228,476 237.7,484 244.2,496 228,490.4" fill="#1f46a0" /><polygon points="247.5,496 255.6,496 258.8,505.7 252.3,504.1" fill="#1f46a0" /><polygon points="315.6,509 327,503.3 323.8,522 317.3,526.8" fill="#1f46a0" /><polygon points="316.5,549.6 321.3,554.4 328,586 308,586 314,567.4" fill="#1f46a0" /><polygon points="228,565 252,586 228,586" fill="#1f46a0" /><polygon points="408,566 408,586 390,586" fill="#1f46a0" /></g><g filter="url(#p1c)"><polygon points="299.4,408 331,413 318.9,423.9 299.4,434.4" fill="#d8321f" /><polygon points="279.9,443.3 304.3,450.6 286.4,462.8" fill="#d8321f" /><polygon points="283.2,470.9 291.3,472.5 285.6,479" fill="#d8321f" /><polygon points="273.4,520.3 296.2,509.8 299.4,526.8 289.7,526" fill="#d8321f" /><polygon points="236.1,538.2 257.2,531.7 245.9,558.5" fill="#d8321f" /><polygon points="324.6,530.9 348.1,530.1 327,547.9" fill="#d8321f" /><polygon points="364.3,502.5 370.8,496 380.6,494 377.3,510.6 369.2,512.2" fill="#d8321f" /><polygon points="377.3,539.8 395.2,544.7 382.2,562.5" fill="#d8321f" /><polygon points="332,491 346,492 340,498" fill="#d8321f" /></g><g filter="url(#p1c)"><circle cx="297" cy="500.9" r="2" fill="#2aa07a"/><circle cx="266.3" cy="457" r="3.2" fill="#a8642a"/></g></g>
</svg>
<!--/P1-->
<!--P2-->
<svg id="p2" style="left:414.3px;top:411.8px;" width="171.6" height="170.2" viewBox="414.3 411.8 171.6 170.2" preserveAspectRatio="none">
<defs><clipPath id="c_p2"><rect x="414.3" y="411.8" width="171.6" height="170.2"/></clipPath><filter id="p2a" x="-40%" y="-40%" width="180%" height="180%" color-interpolation-filters="sRGB"><feGaussianBlur stdDeviation="1.6"/></filter><filter id="p2b" x="-40%" y="-40%" width="180%" height="180%" color-interpolation-filters="sRGB"><feGaussianBlur stdDeviation="2.4"/></filter><filter id="p2d" x="-40%" y="-40%" width="180%" height="180%" color-interpolation-filters="sRGB"><feGaussianBlur stdDeviation="4"/></filter><filter id="p2e" x="-40%" y="-40%" width="180%" height="180%" color-interpolation-filters="sRGB"><feGaussianBlur stdDeviation="1.2"/></filter></defs><g clip-path="url(#c_p2)"><rect x="400" y="400" width="200" height="200" fill="#1f46a0"/><g filter="url(#p2a)"><polygon points="410,408 425.2,408 430.1,419 439.8,419 443.1,408 575,408 576,438 553,443 545,456 527,458 527,490 532.4,496 525.9,500.9 509.6,499.2 486.9,500.9 462.6,505.7 449.6,507.4 444.7,502.5 444.7,496 441.5,485.5 423.6,479 410,474.5" fill="#5ac230" /><polygon points="590,462 574.6,475.8 568,490 550.2,496 543.7,500.9 548.6,512.2 542.1,528.5 506.4,528.5 501.5,541.4 506.4,560.9 512.9,586 569.5,586 590,563" fill="#5ac230" /><polygon points="410,544.5 428.5,531.7 456.1,522 462.6,513.9 486.9,506.6 496.6,515.5 499.9,528.5 501.5,541.4 495,565.8 491,586 441,586 410,564.5" fill="#5ac230" /><polygon points="410,486 419,485.5 421,493 418,499 410,499" fill="#5ac230" /><polygon points="577.5,408 590,408 590,416.5 579,415.7" fill="#5ac230" /><polygon points="501.5,482.3 509.6,482.3 509.6,497.5 499.9,497.5" fill="#1f46a0" /></g><g filter="url(#p2b)"><polygon points="438,423 455,418 466,440 472,455 476,470 470,492 452,499 448,482 430,474 421,466 430,442" fill="#3ab24e" /><polygon points="500,410 514.5,410 513,420 503,421" fill="#3ab24e" /><polygon points="563,499 590,480 590,540 577.8,547 566,545.5 562,531.7 563.5,512.2" fill="#3ab24e" /><polygon points="449,499 528,498 522,499.5 486,499.5 455,504" fill="#3ab24e" /><polygon points="482,460 522,459 522,478 512,479 498,480 497,494 482,495" fill="#3ab24e" /></g><g filter="url(#p2b)"><polygon points="443.1,462.8 473.9,459.6 473.9,467.7 446.3,470.9" fill="#2a9a80" /><circle cx="490" cy="468" r="7" fill="#7cc830"/><circle cx="504" cy="490" r="3" fill="#3080a0"/></g><g filter="url(#p2b)"><polygon points="459.3,408 496.6,408 499.9,420.6 512.9,422.2 522.6,408 568.1,408 571.3,436.8 550.2,440.9 542.1,453.1 506.4,451.4 499.9,438.5 485.3,433.6 473.9,446.6 469.1,432 462.6,422.2" fill="#aa622e" /><polygon points="410,430.3 426.9,425.5 430.1,438.5 418.7,459.6 410,459.6" fill="#8e8238" /><polygon points="473.9,477.4 480.4,477 481,496 476,497" fill="#8c8838" /><polygon points="410,549 430,536 458,526 465,517.5 485.5,511.5 492.5,518 495.5,529 497,541 491,565 488,586 440,586 410,566" fill="#7e8a36" /><polygon points="509.6,535 543.7,533.3 550.2,515.5 548.6,502.5 555.1,499.2 558.3,512.2 558.3,536.6 564.8,549.6 577.8,551.2 590,543 590,564.2 571.3,584 516.1,584 510.4,560.9" fill="#9c702e" /><circle cx="582" cy="476" r="3" fill="#a86c30"/></g><g filter="url(#p2d)"><polygon points="414,556 444,566 470,570 492,560 488,588 440,588 410,570" fill="#a47030" /><polygon points="430,578 486,576 485,590 440,590" fill="#b85a2a" /></g><g filter="url(#p2d)"><polygon points="515,425 522.6,410 566,410 568,434 548,438 540,449 510,448 505,436" fill="#c04c28" /><polygon points="522,574 566,574 562,588 520,588" fill="#c04c28" /></g><g filter="url(#p2a)"><polygon points="481,436 497,438 493,451 482,450" fill="#5ac230" /><polygon points="446.3,544.7 473.9,543.1 470.7,564.2 457.7,564.2" fill="#5ac230" /><circle cx="538.8" cy="562.5" r="7.5" fill="#52c03e"/></g><g filter="url(#p2e)"><circle cx="488.5" cy="443.3" r="2.6" fill="#2a9a74"/><circle cx="462.6" cy="552.8" r="3.2" fill="#2a9a74"/></g></g>
</svg>
<!--/P2-->
<!--P3-->
<div class="abs" style="left:586px;top:411.7px;width:11px;height:170.3px;background:linear-gradient(90deg,#fff 0,#fff 84%,#aeb8de 90%,#aeb8de 100%);"></div><svg id="p3" style="left:596.7px;top:411.8px;" width="170.4" height="170.2" viewBox="596.7 411.8 170.4 170.2" preserveAspectRatio="none">
<defs><clipPath id="c_p3"><rect x="596.7" y="411.8" width="170.4" height="170.2"/></clipPath><filter id="p3a" x="-40%" y="-40%" width="180%" height="180%" color-interpolation-filters="sRGB"><feGaussianBlur stdDeviation="4.5"/></filter><filter id="p3b" x="-40%" y="-40%" width="180%" height="180%" color-interpolation-filters="sRGB"><feGaussianBlur stdDeviation="2"/></filter><filter id="p3c" x="-40%" y="-40%" width="180%" height="180%" color-interpolation-filters="sRGB"><feGaussianBlur stdDeviation="1.8"/></filter></defs><g clip-path="url(#c_p3)"><rect x="580" y="400" width="200" height="200" fill="#1f46a0"/><g filter="url(#p3a)"><polygon points="620.2,438.5 633.2,420.6 644.6,438.5 647.8,462.8 644.6,483.9 623.5,474.2 612.1,459.6" fill="#2362a4" /><polygon points="745.2,496 772,490 772,541.4 753.3,549.6 742,535 740.3,517.1" fill="#2362a4" /><polygon points="664,463 704.6,470.9 696.5,487.2 664,483.9" fill="#2362a4" /><polygon points="680,414 693.3,415.7 684,424" fill="#2362a4" /></g><g filter="url(#p3b)"><polygon points="592,408 623.5,408 621.8,420.6 613.7,432 607.2,427.1" fill="#5cc030" /><polygon points="663.2,408 678.6,409 684.3,422.2 680.3,430.3 667.3,436.8 662.4,435.2" fill="#5cc030" /><polygon points="644.6,442.5 655.9,441.7 672.2,448.2 662.4,459.6 660.8,470.9 659.2,482.3 651.1,487.2 646.2,477.4 649.4,462.8 646.2,454.7" fill="#5cc030" /><polygon points="704.6,457.9 719.2,453.9 722.5,459.6 712.7,472.5 704.6,474.2" fill="#5cc030" /><polygon points="722.5,466 733.8,465.2 756.6,475.8 743.6,493.6 745.2,496 742,509 729,523.6 707.9,536.6 688.4,551.2 686.8,528.5 688.4,512.2 672.2,513.9 667.3,500.9 678.6,498 686.8,484 692,492 701.4,494 711.1,487.2 722,494 730.6,492" fill="#5cc030" /><polygon points="592,476 600.7,474.2 610.5,470.9 623.5,483.9 627,496 623.5,505.7 634.8,510.6 659.2,502.5 667.3,500.9 668.9,512.2 667.3,528.5 655.9,525.2 630,525.2 623.5,541.4 613.7,562.5 605.6,549.6 592,546.3" fill="#5cc030" /><polygon points="738.7,538.2 743.6,539.8 751.7,551.2 743.6,564.2 739.5,557.7" fill="#5cc030" /><polygon points="625,499.5 644.6,497.6 655.9,500.9 638.1,507 627.5,505.5" fill="#2468a8" /></g><g filter="url(#p3c)"><polygon points="605.5,406 620.5,406 613.7,422.5" fill="#dc4424" /><polygon points="592,504 603,500 612.1,505.7 628.3,517.1 592,540" fill="#dc4424" /><polygon points="694.9,505.7 711.1,497.6 724.1,502.5 725.7,515.5 717.6,525.2 696.5,523.6" fill="#dc4424" /><polygon points="729,472.5 737.1,470.9 748.4,479 740.3,490.4 732.2,487.2" fill="#dc4424" /><polygon points="671.3,501.7 680.3,501.7 675.4,508.2" fill="#dc4424" /><circle cx="712.7" cy="462" r="3.2" fill="#b86a30"/><circle cx="617" cy="488" r="2.2" fill="#b07830"/></g></g>
</svg>
<!--/P3-->
<div class="t p pk" id="k1" style="left:309.2px;top:597.5px;">Peak1</div>
<div class="t p pk" id="k2" style="left:499.5px;top:597.5px;">Peak2</div>
<div class="t p pk" id="k3" style="left:686.5px;top:597.5px;">Peak3</div>

<div class="t p" id="m0" style="left:790.5px;top:411.7px;letter-spacing:0.1px;">Measurement condition</div>
<span class="bul" style="left:795px;top:450.4px;"></span>
<div class="t p" id="m1" style="left:809px;top:444.8px;letter-spacing:0.04px;">Sample: Heterojunction samples</div>
<span class="bul" style="left:795px;top:483.8px;"></span>
<div class="t p" id="m2" style="left:809px;top:478.1px;letter-spacing:0.13px;">Excitation light source: 532 nm</div>
<span class="bul" style="left:795px;top:517.1px;"></span>
<div class="t p" id="m3" style="left:809px;top:511.9px;letter-spacing:0.16px;">Step size: 0.2μm</div>
<span class="bul" style="left:795px;top:551.1px;"></span>
<div class="t p" id="m4" style="left:809px;top:545.9px;letter-spacing:0.02px;">Test area: 32 × 32 μm</div>
<span class="bul" style="left:795px;top:584.4px;"></span>
<div class="t p" id="m5" style="left:809px;top:578.7px;letter-spacing:0.14px;">Microscope objective: 100X</div>
<div class="t p" id="m6" style="left:809px;top:604.1px;letter-spacing:0.1px;">darkfield objective</div>

</body>
</html>
